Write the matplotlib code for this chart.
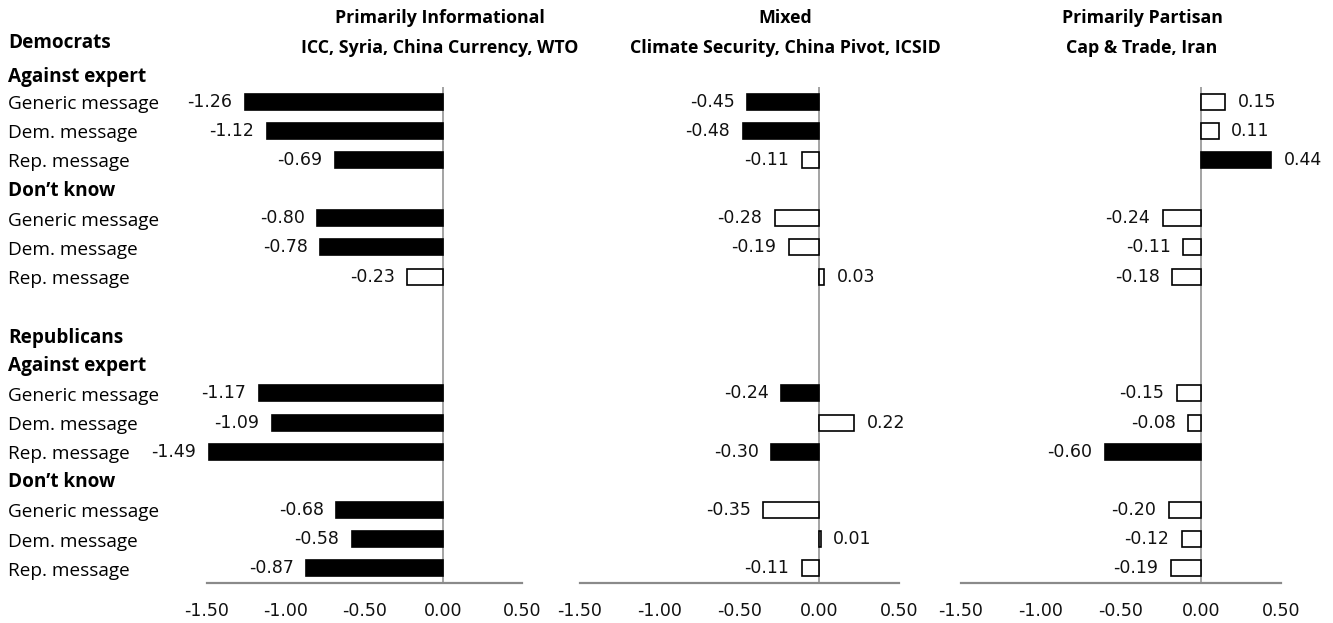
import matplotlib
matplotlib.use('Agg')
import matplotlib.pyplot as plt
from matplotlib.transforms import blended_transform_factory

# ---------------- data ----------------
panel_titles = ["Primarily Informational", "Mixed", "Primarily Partisan"]
panel_subtitles = ["ICC, Syria, China Currency, WTO",
                   "Climate Security, China Pivot, ICSID",
                   "Cap & Trade, Iran"]
row_labels = ["Generic message", "Dem. message", "Rep. message"] * 4
group_headers = ["Democrats", "Against expert", "Don\u2019t know",
                 "Republicans", "Against expert", "Don\u2019t know"]
# order: Dem/Against expert (G, D, R), Dem/Don't know, Rep/Against expert, Rep/Don't know
informational = [-1.26, -1.12, -0.69, -0.80, -0.78, -0.23,
                 -1.17, -1.09, -1.49, -0.68, -0.58, -0.87]
mixed = [-0.45, -0.48, -0.11, -0.28, -0.19, 0.03,
         -0.24, 0.22, -0.30, -0.35, 0.01, -0.11]
partisan = [0.15, 0.11, 0.44, -0.24, -0.11, -0.18,
            -0.15, -0.08, -0.60, -0.20, -0.12, -0.19]
# 1 = filled (black) bar, 0 = open bar
informational_filled = [1, 1, 1, 1, 1, 0, 1, 1, 1, 1, 1, 1]
mixed_filled = [1, 1, 0, 0, 0, 0, 1, 0, 1, 0, 0, 0]
partisan_filled = [0, 0, 1, 0, 0, 0, 0, 0, 1, 0, 0, 0]
x_ticks = [-1.50, -1.00, -0.50, 0.00, 0.50]

# ---------------- layout ----------------
W, H = 1333, 623
fig = plt.figure(figsize=(W / 100, H / 100), dpi=100)

row_pos = [0, 1, 2, 4, 5, 6, 10, 11, 12, 14, 15, 16]
header_pos = [-2.0, -0.85, 3.08, 8.1, 9.05, 13.05]
header_x = 8

ax_px = [(207, 315), (580, 319), (961, 320)]
ax_top, ax_bot = 87, 583
title_cx = [440, 785, 1142]

series = [informational, mixed, partisan]
fills = [informational_filled, mixed_filled, partisan_filled]

TXT = "Open Sans"
NUM = "DejaVu Sans"
grey = "#8a8a8a"

axes = []
for i, (left, width) in enumerate(ax_px):
    ax = fig.add_axes([left / W, (H - ax_bot) / H, width / W, (ax_bot - ax_top) / H])
    axes.append(ax)
    vals = series[i]
    fl = fills[i]
    colors = ["black" if f else "white" for f in fl]
    ax.barh(row_pos, vals, height=0.55, color=colors, edgecolor="black",
            linewidth=1.2, zorder=3)
    for y, v in zip(row_pos, vals):
        off = -9 if v < 0 else 9
        ax.annotate(f"{v:.2f}", xy=(v, y), xytext=(off, 0),
                    textcoords="offset points",
                    ha="right" if v < 0 else "left", va="center",
                    fontsize=12.5, family=NUM, color="#111111")
    ax.set_xlim(-1.5, 0.5)
    ax.set_ylim(16.5, -0.5)
    ax.axvline(0, color=grey, lw=1.1, zorder=2)
    for s in ["top", "right", "left"]:
        ax.spines[s].set_visible(False)
    ax.spines["bottom"].set_color(grey)
    ax.spines["bottom"].set_linewidth(1.6)
    ax.set_yticks([])
    ax.set_xticks(x_ticks)
    ax.set_xticklabels([f"{t:.2f}" for t in x_ticks], family=NUM, fontsize=12.5)
    ax.tick_params(axis="x", length=0, pad=14, colors="#111111")
    ax.patch.set_alpha(0)

    fig.text(title_cx[i] / W, 1 - 18 / H, panel_titles[i], ha="center", va="center",
             family=TXT, fontweight="bold", fontsize=12.8)
    fig.text(title_cx[i] / W, 1 - 48 / H, panel_subtitles[i], ha="center", va="center",
             family=TXT, fontweight="bold", fontsize=12.8)

# row labels and group headers
tr = blended_transform_factory(fig.transFigure, axes[0].transData)
for y, lab in zip(row_pos, row_labels):
    fig.text(header_x / W, y + 0.08, lab, transform=tr, ha="left", va="center",
             family=TXT, fontsize=13.7)
for y, lab in zip(header_pos, group_headers):
    fig.text(header_x / W, y, lab, transform=tr, ha="left", va="center",
             family=TXT, fontsize=13.7, fontweight="bold")

fig.savefig("out.png", dpi=100)
